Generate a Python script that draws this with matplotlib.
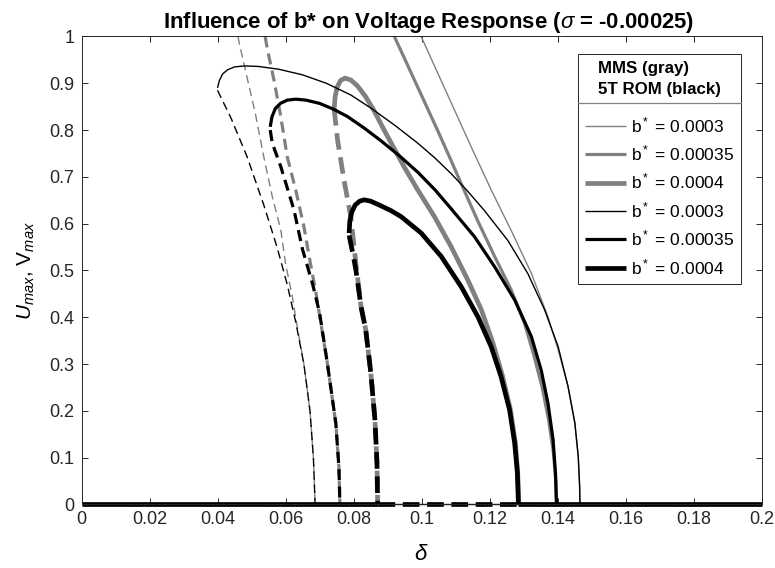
#!/usr/bin/env python3

import matplotlib
matplotlib.use('Agg')
import matplotlib.pyplot as plt
from matplotlib.lines import Line2D
from matplotlib.ticker import FuncFormatter

# Values (delta, amplitude)
# MMS (gray), b* = 0.0003
mms1_stable_x = [0.0999, 0.1050, 0.1100, 0.1150, 0.1205, 0.1264, 0.1323, 0.1372, 0.1402, 0.1431, 0.1451, 0.1461, 0.1465, 0.1466]
mms1_stable_y = [1.000, 0.918, 0.838, 0.758, 0.672, 0.585, 0.494, 0.401, 0.330, 0.252, 0.174, 0.102, 0.040, 0.000]
mms1_unstable_x = [0.0460, 0.0465, 0.0511, 0.0536, 0.0561, 0.0586, 0.0600, 0.0620, 0.0632, 0.0654, 0.0672, 0.0682, 0.0687]
mms1_unstable_y = [1.000, 0.982, 0.836, 0.743, 0.658, 0.587, 0.515, 0.444, 0.390, 0.300, 0.200, 0.100, 0.000]

# MMS (gray), b* = 0.00035
mms2_stable_x = [0.0920, 0.0950, 0.1000, 0.1050, 0.1090, 0.1117, 0.1166, 0.1215, 0.1264, 0.1303, 0.1330, 0.1355, 0.1374, 0.1388, 0.1395, 0.1397]
mms2_stable_y = [1.000, 0.953, 0.874, 0.795, 0.730, 0.685, 0.605, 0.530, 0.458, 0.387, 0.320, 0.250, 0.180, 0.110, 0.050, 0.000]
mms2_unstable_x = [0.0540, 0.0546, 0.0566, 0.0586, 0.0605, 0.0630, 0.0654, 0.0672, 0.0690, 0.0723, 0.0748, 0.0757, 0.0760]
mms2_unstable_y = [1.000, 0.975, 0.907, 0.829, 0.743, 0.672, 0.594, 0.520, 0.450, 0.302, 0.173, 0.080, 0.000]

# MMS (gray), b* = 0.0004
mms3_stable_x = [0.0743, 0.0746, 0.0752, 0.0762, 0.0775, 0.0792, 0.0812, 0.0835, 0.0860, 0.0890, 0.0920, 0.0950, 0.0989, 0.1038, 0.1087, 0.1136, 0.1176, 0.1210, 0.1238, 0.1261, 0.1276, 0.1283, 0.1286]
mms3_stable_y = [0.845, 0.872, 0.892, 0.906, 0.911, 0.907, 0.894, 0.872, 0.842, 0.800, 0.760, 0.720, 0.672, 0.615, 0.551, 0.480, 0.416, 0.345, 0.275, 0.204, 0.132, 0.067, 0.000]
mms3_unstable_x = [0.0743, 0.0753, 0.0772, 0.0792, 0.0807, 0.0822, 0.0836, 0.0851, 0.0863, 0.0869, 0.0871]
mms3_unstable_y = [0.845, 0.779, 0.693, 0.615, 0.515, 0.423, 0.373, 0.280, 0.181, 0.088, 0.000]

# 5T ROM (black), b* = 0.0003
rom1_stable_x = [0.0400, 0.0405, 0.0415, 0.0430, 0.0450, 0.0480, 0.0520, 0.0580, 0.0650, 0.0720, 0.0792, 0.0851, 0.0920, 0.0989, 0.1040, 0.1087, 0.1135, 0.1185, 0.1254, 0.1313, 0.1362, 0.1402, 0.1431, 0.1451, 0.1461, 0.1465, 0.1466]
rom1_stable_y = [0.890, 0.905, 0.920, 0.929, 0.935, 0.937, 0.936, 0.930, 0.918, 0.900, 0.875, 0.847, 0.811, 0.772, 0.740, 0.707, 0.670, 0.628, 0.564, 0.493, 0.416, 0.337, 0.252, 0.174, 0.102, 0.040, 0.000]
rom1_unstable_x = [0.0400, 0.0440, 0.0487, 0.0536, 0.0575, 0.0605, 0.0630, 0.0654, 0.0672, 0.0682, 0.0687]
rom1_unstable_y = [0.885, 0.825, 0.743, 0.640, 0.550, 0.470, 0.390, 0.300, 0.200, 0.100, 0.000]

# 5T ROM (black), b* = 0.00035
rom2_stable_x = [0.0555, 0.0560, 0.0570, 0.0585, 0.0605, 0.0630, 0.0660, 0.0700, 0.0740, 0.0782, 0.0830, 0.0881, 0.0935, 0.0989, 0.1040, 0.1087, 0.1156, 0.1215, 0.1274, 0.1323, 0.1352, 0.1372, 0.1387, 0.1394, 0.1397]
rom2_stable_y = [0.807, 0.828, 0.846, 0.857, 0.864, 0.866, 0.864, 0.857, 0.845, 0.829, 0.805, 0.777, 0.745, 0.710, 0.672, 0.632, 0.572, 0.508, 0.437, 0.359, 0.287, 0.216, 0.138, 0.067, 0.000]
rom2_unstable_x = [0.0555, 0.0561, 0.0586, 0.0625, 0.0650, 0.0680, 0.0700, 0.0723, 0.0748, 0.0757, 0.0760]
rom2_unstable_y = [0.800, 0.772, 0.722, 0.629, 0.545, 0.470, 0.410, 0.302, 0.173, 0.080, 0.000]

# 5T ROM (black), b* = 0.0004
rom3_stable_x = [0.0787, 0.0789, 0.0795, 0.0805, 0.0818, 0.0831, 0.0851, 0.0881, 0.0910, 0.0940, 0.0999, 0.1058, 0.1117, 0.1166, 0.1205, 0.1234, 0.1259, 0.1274, 0.1282, 0.1285]
rom3_stable_y = [0.580, 0.605, 0.625, 0.640, 0.648, 0.651, 0.648, 0.638, 0.628, 0.615, 0.580, 0.530, 0.465, 0.401, 0.337, 0.273, 0.202, 0.131, 0.067, 0.000]
rom3_unstable_x = [0.0787, 0.0797, 0.0807, 0.0822, 0.0836, 0.0851, 0.0863, 0.0869, 0.0871]
rom3_unstable_y = [0.575, 0.540, 0.501, 0.423, 0.373, 0.280, 0.181, 0.088, 0.000]

# trivial (zero) solution: stable / unstable ranges of delta
trivial_stable_x = [[0.0, 0.0871], [0.1285, 0.2]]
trivial_unstable_x = [0.0871, 0.1285]

b_labels = ['0.0003', '0.00035', '0.0004']

GRAY = (0.5, 0.5, 0.5)
WIDTHS = [1.0, 2.3, 3.4]
DASHES = [(6, 3.5), (8, 4.5), (12, 5.5)]


def draw_branch(ax, x, y, color, lw, dashes=None):
    line, = ax.plot(x, y, color=color, lw=lw, solid_capstyle='butt',
                    dash_capstyle='butt', solid_joinstyle='round')
    if dashes is not None:
        line.set_dashes(dashes)
    return line


def main():
    plt.rcParams['font.family'] = ['Liberation Sans', 'DejaVu Sans']
    plt.rcParams['mathtext.fontset'] = 'custom'
    plt.rcParams['mathtext.rm'] = 'Liberation Sans'
    plt.rcParams['mathtext.it'] = 'Liberation Sans:italic'
    plt.rcParams['mathtext.bf'] = 'Liberation Sans:bold'
    plt.rcParams['lines.scale_dashes'] = False

    fig = plt.figure(figsize=(7.75, 5.68), dpi=100)
    ax = fig.add_axes([0.1052, 0.1118, 0.8774, 0.8240])

    mms = [(mms1_stable_x, mms1_stable_y, mms1_unstable_x, mms1_unstable_y),
           (mms2_stable_x, mms2_stable_y, mms2_unstable_x, mms2_unstable_y),
           (mms3_stable_x, mms3_stable_y, mms3_unstable_x, mms3_unstable_y)]
    rom = [(rom1_stable_x, rom1_stable_y, rom1_unstable_x, rom1_unstable_y),
           (rom2_stable_x, rom2_stable_y, rom2_unstable_x, rom2_unstable_y),
           (rom3_stable_x, rom3_stable_y, rom3_unstable_x, rom3_unstable_y)]

    # gray MMS curves first, black ROM curves on top
    for color, curves in [(GRAY, mms), ('black', rom)]:
        for i, (sx, sy, ux, uy) in enumerate(curves):
            draw_branch(ax, sx, sy, color, WIDTHS[i])
            draw_branch(ax, ux, uy, color, WIDTHS[i], DASHES[i])

    # trivial solution along delta axis
    zl = ax.plot([0.0, 0.2], [0, 0], color='black', lw=WIDTHS[0],
                 solid_capstyle='butt')[0]
    zl.set_clip_on(False)
    for xr in trivial_stable_x:
        zl = ax.plot(xr, [0, 0], color='black', lw=WIDTHS[2],
                     solid_capstyle='butt')[0]
        zl.set_clip_on(False)
    zl = draw_branch(ax, trivial_unstable_x, [0, 0], 'black', WIDTHS[2], DASHES[2])
    zl.set_clip_on(False)

    ax.set_xlim(0, 0.2)
    ax.set_ylim(0, 1)
    ax.set_xticks([i * 0.02 for i in range(11)])
    ax.set_yticks([i * 0.1 for i in range(11)])
    fmt = FuncFormatter(lambda v, pos: '%g' % round(v, 4))
    ax.xaxis.set_major_formatter(fmt)
    ax.yaxis.set_major_formatter(fmt)
    ax.tick_params(direction='in', length=4.5, width=0.7, top=True, right=True,
                   labelsize=13, colors='#262626', pad=5)
    for sp in ax.spines.values():
        sp.set_color('#262626')
        sp.set_linewidth(0.7)

    ax.set_title(r'Influence of b* on Voltage Response ($\sigma$ = -0.00025)',
                 fontsize=15.9, fontweight='bold', pad=6, x=0.511)
    ax.set_xlabel(r'$\delta$', fontsize=16, labelpad=11)
    ax.set_ylabel(r'$U_{max}$, V$_{max}$', fontsize=15, labelpad=9)

    # legend with solid line samples
    handles = []
    labels = []
    for color in [GRAY, 'black']:
        for i, b in enumerate(b_labels):
            handles.append(Line2D([], [], color=color, lw=WIDTHS[i],
                                  solid_capstyle='butt'))
            labels.append(r'b$^*$ = ' + b)
    leg = ax.legend(handles, labels, title='MMS (gray)\n5T ROM (black)',
                    loc='upper right', bbox_to_anchor=(741 / 775, 1 - 54 / 568),
                    bbox_transform=fig.transFigure, borderaxespad=0,
                    fontsize=12.5, handlelength=2.35, handletextpad=0.3,
                    labelspacing=0.49, borderpad=0.4, fancybox=False,
                    framealpha=1, edgecolor='#262626')
    leg.get_title().set_fontweight('bold')
    leg.get_title().set_fontsize(12.2)
    leg.get_title().set_linespacing(1.5)
    leg.get_frame().set_linewidth(0.7)
    leg._legend_box.sep = 13

    # separator between legend title and entries
    fig.canvas.draw()
    fb = leg.get_frame().get_window_extent()
    tb = leg.get_title().get_window_extent()
    W, H = fig.bbox.width, fig.bbox.height
    ysep = (tb.y0 - 6) / H
    fig.add_artist(Line2D([fb.x0 / W, fb.x1 / W], [ysep, ysep],
                          color=GRAY, lw=0.9))

    fig.savefig('out.png', dpi=100)


if __name__ == "__main__":
    main()
